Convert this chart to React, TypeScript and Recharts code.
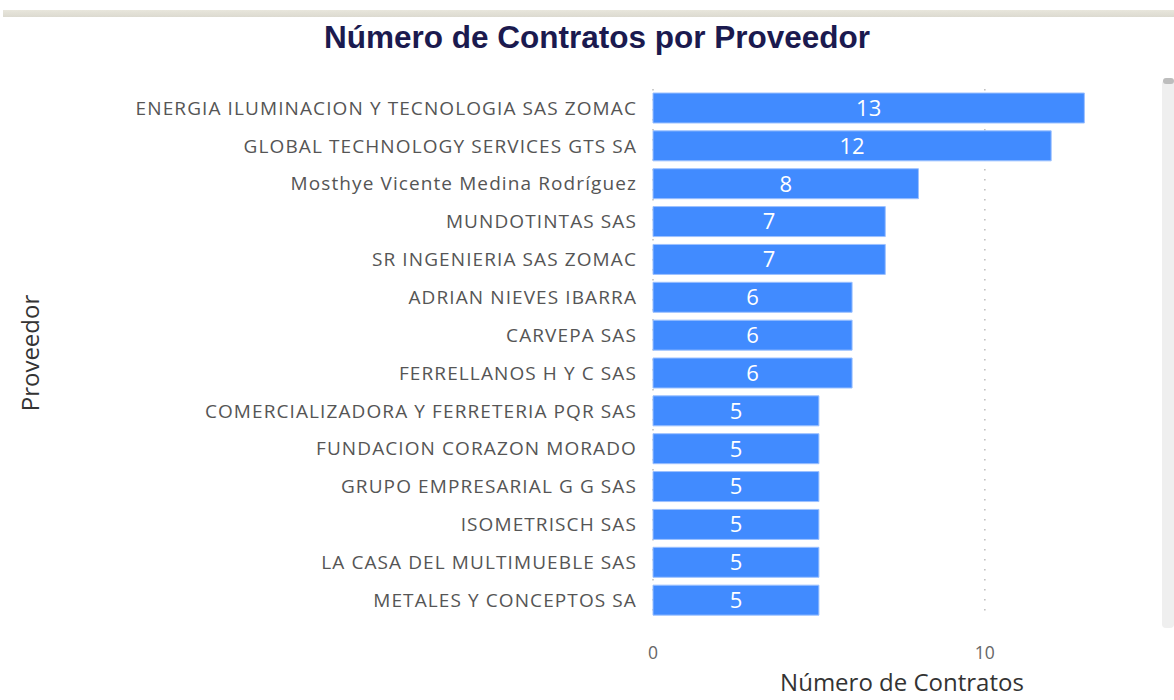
import { BarChart, Bar, XAxis, YAxis, CartesianGrid, LabelList } from 'recharts';

const providers = [
  'ENERGIA ILUMINACION Y TECNOLOGIA SAS ZOMAC',
  'GLOBAL TECHNOLOGY SERVICES GTS SA',
  'Mosthye Vicente Medina Rodríguez',
  'MUNDOTINTAS SAS',
  'SR INGENIERIA SAS ZOMAC',
  'ADRIAN NIEVES IBARRA',
  'CARVEPA SAS',
  'FERRELLANOS H Y C SAS',
  'COMERCIALIZADORA Y FERRETERIA PQR SAS',
  'FUNDACION CORAZON MORADO',
  'GRUPO EMPRESARIAL G G SAS',
  'ISOMETRISCH SAS',
  'LA CASA DEL MULTIMUEBLE SAS',
  'METALES Y CONCEPTOS SA',
];

const contracts = [13, 12, 8, 7, 7, 6, 6, 6, 5, 5, 5, 5, 5, 5];

const xTicks = [0, 10];
const xMax = 13.2;

const data = providers.map((name, i) => ({ name, value: contracts[i] }));

// vertical grid only at the tick values (0 and 10)
const gridX = ({ offset }: any) =>
  offset ? xTicks.map((t) => offset.left + (t / xMax) * offset.width) : [];

export default function App() {
  return (
    <div style={{ position: 'fixed', left: 0, top: 0, width: 1174, height: 700, background: '#fff', overflow: 'hidden' }}>
      {/* frame line at the top */}
      <div style={{ position: 'absolute', left: 3, top: 10, width: 1171, height: 7, background: 'linear-gradient(#e8e6dc, #dcdad0)' }} />
      <div
        style={{
          position: 'absolute',
          top: 17,
          left: 0,
          width: 1194,
          textAlign: 'center',
          fontFamily: '"Liberation Sans", Arial, sans-serif',
          fontWeight: 'bold',
          fontSize: 31.5,
          lineHeight: '40px',
          color: '#1b1a4f',
        }}
      >
        Número de Contratos por Proveedor
      </div>
      {/* scrollbar */}
      <div style={{ position: 'absolute', left: 1162, top: 80, width: 12, height: 548, background: '#efefef', borderRadius: 4 }} />
      <div style={{ position: 'absolute', left: 1163, top: 78, width: 11, height: 6, background: '#bdbdbd', borderRadius: 3 }} />

      <BarChart
        width={1174}
        height={700}
        data={data}
        layout="vertical"
        margin={{ top: 89, right: 83, bottom: 8, left: 0 }}
        barCategoryGap={4}
        style={{ position: 'absolute', left: 0, top: 0 }}
      >
        <CartesianGrid
          horizontal={false}
          stroke="#bdbdbd"
          strokeWidth={1.5}
          strokeDasharray="1.5 8.5"
          verticalCoordinatesGenerator={gridX}
        />
        <XAxis
          type="number"
          domain={[0, xMax]}
          ticks={xTicks}
          axisLine={false}
          tickLine={false}
          height={73}
          tickMargin={22}
          tick={{ fill: '#666', fontSize: 17.5, fontFamily: '"Open Sans", sans-serif' }}
          label={{
            value: 'Número de Contratos',
            position: 'insideBottom',
            offset: 1,
            dx: 30,
            style: { fill: '#333', fontSize: 24, fontFamily: '"Open Sans", sans-serif' },
          }}
        />
        <YAxis
          type="category"
          dataKey="name"
          width={653}
          axisLine={false}
          tickLine={false}
          tickMargin={10}
          interval={0}
          tick={{ fill: '#555', fontSize: 19, letterSpacing: 1.1, fontFamily: '"Open Sans", sans-serif' }}
          label={{
            value: 'Proveedor',
            angle: -90,
            position: 'insideLeft',
            offset: 30,
            dy: -1,
            style: { fill: '#333', fontSize: 24, fontFamily: '"Open Sans", sans-serif', textAnchor: 'middle' },
          }}
        />
        <Bar dataKey="value" fill="#418bff" stroke="#9cc1ff" strokeWidth={1} isAnimationActive={false}>
          <LabelList
            dataKey="value"
            position="center"
            style={{ fill: '#fff', fontSize: 22, fontFamily: '"Open Sans", sans-serif' }}
          />
        </Bar>
      </BarChart>
    </div>
  );
}
